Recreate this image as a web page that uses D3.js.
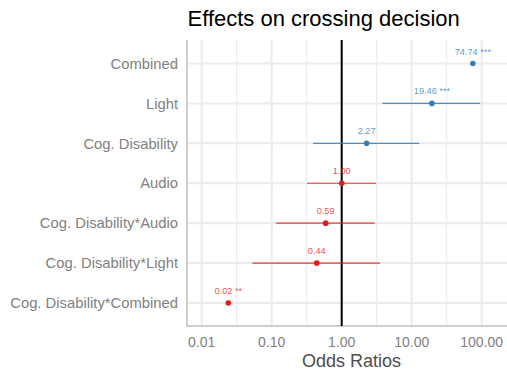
<!DOCTYPE html>
<html><head><meta charset="utf-8">
<script src="https://cdn.jsdelivr.net/npm/d3@7"></script>
<style>body{margin:0;background:#fff}svg{display:block}text{font-family:"Liberation Sans",Arial,sans-serif}</style>
</head><body><svg id="c" width="507" height="370"></svg>
<script>
const terms = ["Combined","Light","Cog. Disability","Audio","Cog. Disability*Audio","Cog. Disability*Light","Cog. Disability*Combined"];
const estimates = [74.74, 19.46, 2.27, 1.00, 0.59, 0.44, 0.024];
const labels = ["74.74 ***","19.46 ***","2.27","1.00","0.59","0.44","0.02 **"];
const ciLow = [null, 3.8, 0.39, 0.32, 0.115, 0.053, null];
const ciHigh = [null, 95, 12.8, 3.09, 2.96, 3.52, null];
const groups = ["pos","pos","pos","neg","neg","neg","neg"];
const xTicks = [0.01, 0.1, 1, 10, 100];
const xMinor = [0.0316, 0.316, 3.16, 31.6];
const colors = {pos:"#377EB8", neg:"#E41A1C"};

const svg = d3.select("#c");
const L=187, R=507, T=40, B=326;
const x = d3.scaleLog().domain([Math.pow(10,-2-14.7/70), Math.pow(10,2+25.3/70)]).range([L,R]);
const y = d3.scalePoint().domain(terms).range([63.5,303]);

// grid
svg.append("g").selectAll("line").data(xMinor).join("line")
  .attr("x1",d=>x(d)).attr("x2",d=>x(d)).attr("y1",T).attr("y2",B)
  .attr("stroke","#ebebeb").attr("stroke-width",1.1);
svg.append("g").selectAll("line").data(xTicks).join("line")
  .attr("x1",d=>x(d)).attr("x2",d=>x(d)).attr("y1",T).attr("y2",B)
  .attr("stroke","#ebebeb").attr("stroke-width",2);
svg.append("g").selectAll("line").data(terms).join("line")
  .attr("x1",L).attr("x2",R).attr("y1",d=>y(d)).attr("y2",d=>y(d))
  .attr("stroke","#ebebeb").attr("stroke-width",2);

// axis lines
svg.append("line").attr("x1",L).attr("x2",L).attr("y1",T).attr("y2",B+1).attr("stroke","#cfcfcf").attr("stroke-width",2);
svg.append("line").attr("x1",L).attr("x2",R).attr("y1",B).attr("y2",B).attr("stroke","#cfcfcf").attr("stroke-width",2);

// reference line
svg.append("line").attr("x1",x(1)).attr("x2",x(1)).attr("y1",T).attr("y2",B).attr("stroke","#000").attr("stroke-width",2);

const data = terms.map((t,i)=>({t,est:estimates[i],lab:labels[i],lo:ciLow[i],hi:ciHigh[i],g:groups[i]}));

svg.append("g").selectAll("line").data(data.filter(d=>d.lo!=null)).join("line")
  .attr("x1",d=>x(d.lo)).attr("x2",d=>x(d.hi)).attr("y1",d=>y(d.t)).attr("y2",d=>y(d.t))
  .attr("stroke",d=>colors[d.g]).attr("stroke-width",1.1).attr("stroke-opacity",0.85);
svg.append("g").selectAll("circle").data(data).join("circle")
  .attr("cx",d=>x(d.est)).attr("cy",d=>y(d.t)).attr("r",2.8).attr("fill",d=>colors[d.g]);
svg.append("g").selectAll("text").data(data).join("text")
  .attr("x",d=>x(d.est)).attr("y",d=>y(d.t)-9).attr("text-anchor","middle")
  .attr("font-size",9.2).attr("fill",d=>colors[d.g]).attr("fill-opacity",0.8).text(d=>d.lab);

// y labels
svg.append("g").selectAll("text").data(terms).join("text")
  .attr("x",178).attr("y",d=>y(d)).attr("dy","0.35em").attr("text-anchor","end")
  .attr("font-size",14.8).attr("fill","#7f7f7f").text(d=>d);

// x tick labels
svg.append("g").selectAll("text").data(xTicks).join("text")
  .attr("x",d=>x(d)).attr("y",342).attr("dy","0.35em").attr("text-anchor","middle")
  .attr("font-size",14).attr("fill","#7f7f7f").text(d=>d3.format(".2f")(d));

svg.append("text").attr("x",351.5).attr("y",367).attr("text-anchor","middle").attr("font-size",18).attr("fill","#4d4d4d").text("Odds Ratios");
svg.append("text").attr("x",187.5).attr("y",26).attr("font-size",22).attr("fill","#000").text("Effects on crossing decision");
</script></body></html>
